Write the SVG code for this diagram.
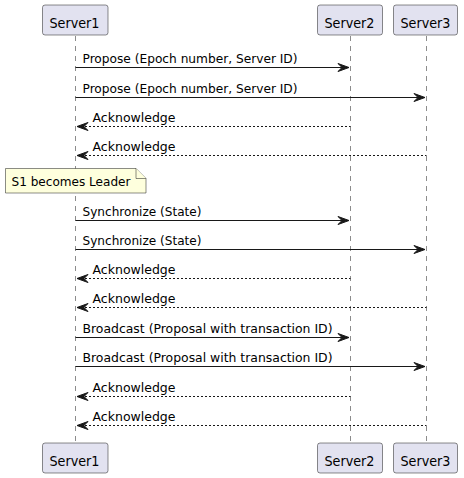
<svg xmlns="http://www.w3.org/2000/svg" width="464" height="478" viewBox="0 0 464 478">
<defs>
<style>
.part rect{fill:#E2E2F0;stroke:#181818;stroke-width:0.5}
.part text{font-family:"DejaVu Sans","Liberation Sans",Arial,sans-serif;font-size:14px;fill:#000}
.life{stroke:#181818;stroke-width:0.5;stroke-dasharray:5,5;fill:none}
.msg{stroke:#181818;stroke-width:1;fill:none}
.ret{stroke:#181818;stroke-width:1;fill:none;stroke-dasharray:2,2}
.lbl{font-family:"DejaVu Sans","Liberation Sans",Arial,sans-serif;font-size:13px;fill:#000}
.head{fill:#181818;stroke:#181818;stroke-width:1}
.note path{fill:#FEFFDD;stroke:#181818;stroke-width:0.5}
</style>
</defs>
<rect width="464" height="478" fill="#FFFFFF"/>
<g id="lifelines">
<line class="life" x1="75.5" y1="36" x2="75.5" y2="443"/>
<line class="life" x1="350.5" y1="36" x2="350.5" y2="443"/>
<line class="life" x1="426.5" y1="36" x2="426.5" y2="443"/>
</g>
<g id="Server1" class="part">
<rect x="42.5" y="5" width="65.5" height="30" rx="2.5"/>
<text x="49.5" y="28" textLength="50" lengthAdjust="spacingAndGlyphs">Server1</text>
<rect x="42.5" y="443" width="65.5" height="30" rx="2.5"/>
<text x="49.5" y="466" textLength="50" lengthAdjust="spacingAndGlyphs">Server1</text>
</g>
<g id="Server2" class="part">
<rect x="317.5" y="5" width="65" height="30" rx="2.5"/>
<text x="324.5" y="28" textLength="50" lengthAdjust="spacingAndGlyphs">Server2</text>
<rect x="317.5" y="443" width="65" height="30" rx="2.5"/>
<text x="324.5" y="466" textLength="50" lengthAdjust="spacingAndGlyphs">Server2</text>
</g>
<g id="Server3" class="part">
<rect x="393.5" y="5" width="64" height="30" rx="2.5"/>
<text x="400.5" y="28" textLength="50" lengthAdjust="spacingAndGlyphs">Server3</text>
<rect x="393.5" y="443" width="64" height="30" rx="2.5"/>
<text x="400.5" y="466" textLength="50" lengthAdjust="spacingAndGlyphs">Server3</text>
</g>
<g id="note" class="note">
<path d="M5.5,168.5 L136,168.5 L146,178.5 L146,193 L5.5,193 Z"/>
<path d="M136,168.5 L136,178.5 L146,178.5"/>
<text class="lbl" x="11.5" y="186" textLength="119" lengthAdjust="spacingAndGlyphs">S1 becomes Leader</text>
</g>
<g id="connectors">
<line class="msg" x1="75.5" y1="67.5" x2="349" y2="67.5"/>
<polygon class="head" points="338,63.5 349,67.5 338,71.5 342,67.5"/>
<text class="lbl" x="82.5" y="63" textLength="215" lengthAdjust="spacingAndGlyphs">Propose (Epoch number, Server ID)</text>

<line class="msg" x1="75.5" y1="97.5" x2="425" y2="97.5"/>
<polygon class="head" points="414,93.5 425,97.5 414,101.5 418,97.5"/>
<text class="lbl" x="82.5" y="93" textLength="215" lengthAdjust="spacingAndGlyphs">Propose (Epoch number, Server ID)</text>

<line class="ret" x1="77" y1="126.5" x2="350.5" y2="126.5"/>
<polygon class="head" points="88,122.5 77,126.5 88,130.5 84,126.5"/>
<text class="lbl" x="92.5" y="122" textLength="83" lengthAdjust="spacingAndGlyphs">Acknowledge</text>

<line class="ret" x1="77" y1="155.5" x2="426.5" y2="155.5"/>
<polygon class="head" points="88,151.5 77,155.5 88,159.5 84,155.5"/>
<text class="lbl" x="92.5" y="151" textLength="83" lengthAdjust="spacingAndGlyphs">Acknowledge</text>

<line class="msg" x1="75.5" y1="220.5" x2="349" y2="220.5"/>
<polygon class="head" points="338,216.5 349,220.5 338,224.5 342,220.5"/>
<text class="lbl" x="82.5" y="216" textLength="119" lengthAdjust="spacingAndGlyphs">Synchronize (State)</text>

<line class="msg" x1="75.5" y1="249.5" x2="425" y2="249.5"/>
<polygon class="head" points="414,245.5 425,249.5 414,253.5 418,249.5"/>
<text class="lbl" x="82.5" y="245" textLength="119" lengthAdjust="spacingAndGlyphs">Synchronize (State)</text>

<line class="ret" x1="77" y1="278.5" x2="350.5" y2="278.5"/>
<polygon class="head" points="88,274.5 77,278.5 88,282.5 84,278.5"/>
<text class="lbl" x="92.5" y="274" textLength="83" lengthAdjust="spacingAndGlyphs">Acknowledge</text>

<line class="ret" x1="77" y1="307.5" x2="426.5" y2="307.5"/>
<polygon class="head" points="88,303.5 77,307.5 88,311.5 84,307.5"/>
<text class="lbl" x="92.5" y="303" textLength="83" lengthAdjust="spacingAndGlyphs">Acknowledge</text>

<line class="msg" x1="75.5" y1="337.5" x2="349" y2="337.5"/>
<polygon class="head" points="338,333.5 349,337.5 338,341.5 342,337.5"/>
<text class="lbl" x="82.5" y="333" textLength="250" lengthAdjust="spacingAndGlyphs">Broadcast (Proposal with transaction ID)</text>

<line class="msg" x1="75.5" y1="366.5" x2="425" y2="366.5"/>
<polygon class="head" points="414,362.5 425,366.5 414,370.5 418,366.5"/>
<text class="lbl" x="82.5" y="362" textLength="250" lengthAdjust="spacingAndGlyphs">Broadcast (Proposal with transaction ID)</text>

<line class="ret" x1="77" y1="396.5" x2="350.5" y2="396.5"/>
<polygon class="head" points="88,392.5 77,396.5 88,400.5 84,396.5"/>
<text class="lbl" x="92.5" y="392" textLength="83" lengthAdjust="spacingAndGlyphs">Acknowledge</text>

<line class="ret" x1="77" y1="425.5" x2="426.5" y2="425.5"/>
<polygon class="head" points="88,421.5 77,425.5 88,429.5 84,425.5"/>
<text class="lbl" x="92.5" y="421" textLength="83" lengthAdjust="spacingAndGlyphs">Acknowledge</text>
</g>
</svg>
